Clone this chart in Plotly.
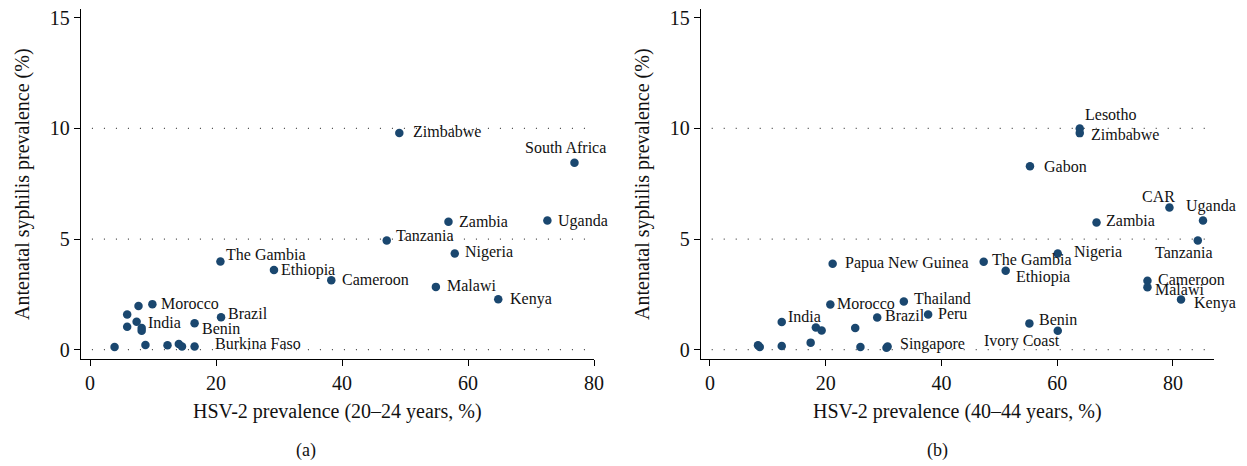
import plotly.graph_objects as go

# ---------------- data ----------------
# Panel (a): HSV-2 prevalence 20-24 years
labels_a = ["Zimbabwe", "South Africa", "Zambia", "Uganda", "Tanzania", "Nigeria",
            "The Gambia", "Ethiopia", "Cameroon", "Malawi", "Kenya", "Morocco", "",
            "", "Brazil", "India", "Benin", "", "", "", "", "", "", "", "", "Burkina Faso"]
hsv_a = [49.1, 76.9, 56.9, 72.6, 47.1, 57.9,
         20.7, 29.2, 38.3, 54.9, 64.8, 9.9, 7.7,
         5.9, 20.8, 7.4, 16.6, 5.9, 8.2, 8.2, 3.9, 8.8, 12.3, 14.1, 14.6, 16.6]
syph_a = [9.8, 8.45, 5.78, 5.84, 4.94, 4.35,
          3.99, 3.6, 3.14, 2.84, 2.28, 2.06, 1.98,
          1.59, 1.47, 1.26, 1.2, 1.04, 0.98, 0.86, 0.12, 0.21, 0.2, 0.26, 0.15, 0.14]

# Panel (b): HSV-2 prevalence 40-44 years
labels_b = ["Lesotho", "Zimbabwe", "Gabon", "CAR", "Uganda", "Zambia", "Tanzania",
            "Nigeria", "The Gambia", "Ethiopia", "Papua New Guinea", "Cameroon",
            "Malawi", "Kenya", "Thailand", "Morocco", "Brazil", "Peru", "India",
            "", "", "", "Benin", "Ivory Coast", "", "", "", "", "", "", "Singapore"]
hsv_b = [63.9, 63.9, 55.3, 79.4, 85.2, 66.8, 84.3,
         60.1, 47.3, 51.1, 21.2, 75.6,
         75.6, 81.4, 33.5, 20.8, 28.9, 37.7, 12.4,
         18.3, 19.3, 25.1, 55.2, 60.1, 8.3, 8.6, 12.4, 17.4, 26.0, 30.5, 30.7]
syph_b = [10.0, 9.79, 8.29, 6.43, 5.84, 5.75, 4.94,
          4.35, 3.98, 3.57, 3.89, 3.12,
          2.82, 2.27, 2.18, 2.04, 1.46, 1.59, 1.25,
          1.0, 0.87, 0.98, 1.19, 0.86, 0.2, 0.12, 0.17, 0.32, 0.12, 0.09, 0.14]

y_ticks = [0, 5, 10, 15]
grid_vals = [0, 5, 10]
x_ticks = [0, 20, 40, 60, 80]
x_title_a = "HSV-2 prevalence (20–24 years, %)"
x_title_b = "HSV-2 prevalence (40–44 years, %)"
y_title = "Antenatal syphilis prevalence (%)"

# ---------------- label placement (style) ----------------
# (xanchor, xshift px, yshift px)
place_a = {
    "Zimbabwe": ("left", 12, 1), "South Africa": ("center", -9, 15),
    "Zambia": ("left", 9, 0), "Uganda": ("left", 9, 0), "Tanzania": ("left", 7, 5),
    "Nigeria": ("left", 8, 1), "The Gambia": ("left", 4, 7), "Ethiopia": ("left", 5, 0),
    "Cameroon": ("left", 9, 1), "Malawi": ("left", 9, 1), "Kenya": ("left", 10, 0),
    "Morocco": ("left", 7, 1), "Brazil": ("left", 5, 4), "India": ("left", 9, -1),
    "Benin": ("left", 5, -5), "Burkina Faso": ("left", 18, 3),
}
place_b = {
    "Lesotho": ("left", 3, 14), "Zimbabwe": ("left", 9, -1), "Gabon": ("left", 12, 0),
    "CAR": ("center", -11, 11), "Uganda": ("center", 8, 15), "Zambia": ("left", 7, 2),
    "Tanzania": ("center", -14, -12), "Nigeria": ("left", 14, 1),
    "The Gambia": ("left", 6, 2), "Ethiopia": ("left", 8, -6),
    "Papua New Guinea": ("left", 10, 1), "Cameroon": ("left", 9, 1),
    "Malawi": ("left", 6, -2), "Kenya": ("left", 11, -4), "Thailand": ("left", 8, 3),
    "Morocco": ("left", 5, 1), "Brazil": ("left", 6, 2), "Peru": ("left", 8, 1),
    "India": ("left", 4, 6), "Benin": ("left", 8, 4), "Ivory Coast": ("right", 4, -10),
    "Singapore": ("left", 10, 3),
}

FONT = "Liberation Serif"
NAVY = "#1a476f"
W, H = 1247, 466
ML, MR, MT, MB = 81, 33, 7, 107
PW = W - ML - MR

fig = go.Figure()
fig.add_trace(go.Scatter(x=hsv_a, y=syph_a, mode="markers", xaxis="x", yaxis="y",
                         marker=dict(color=NAVY, size=8.5), showlegend=False,
                         text=labels_a, hoverinfo="x+y+text"))
fig.add_trace(go.Scatter(x=hsv_b, y=syph_b, mode="markers", xaxis="x2", yaxis="y2",
                         marker=dict(color=NAVY, size=8.5), showlegend=False,
                         text=labels_b, hoverinfo="x+y+text"))

annotations = []
for labs, xs, ys, place, xr, yr in [(labels_a, hsv_a, syph_a, place_a, "x", "y"),
                                    (labels_b, hsv_b, syph_b, place_b, "x2", "y2")]:
    for lab, xv, yv in zip(labs, xs, ys):
        if not lab:
            continue
        anc, dx, dy = place.get(lab, ("left", 8, 0))
        annotations.append(dict(x=xv, y=yv, xref=xr, yref=yr, text=lab, showarrow=False,
                                xanchor=anc, yanchor="middle", xshift=dx, yshift=dy,
                                font=dict(family=FONT, size=16, color="#111")))

# axis titles and panel letters
for xd, t in [("x domain", x_title_a), ("x2 domain", x_title_b)]:
    yd = "y domain" if xd == "x domain" else "y2 domain"
    annotations.append(dict(x=0.5, y=0, xref=xd, yref=yd, text=t, showarrow=False,
                            xanchor="center", yanchor="middle", yshift=-52,
                            font=dict(family=FONT, size=20, color="#111")))
    annotations.append(dict(x=0, y=0.5, xref=xd, yref=yd, text=y_title, showarrow=False,
                            xanchor="center", yanchor="middle", xshift=-59, textangle=-90,
                            font=dict(family=FONT, size=20, color="#111")))
for px, t in [(306, "(a)"), (937, "(b)")]:
    annotations.append(dict(x=(px - ML) / PW, y=0, xref="paper", yref="paper", text=t,
                            showarrow=False, xanchor="center", yanchor="middle",
                            yshift=-(450 - (H - MB)),
                            font=dict(family=FONT, size=18, color="#111")))

shapes = []
for xr, yr, xend in [("x", "y", 79.5), ("x2", "y2", 85.8)]:
    for g in grid_vals:
        shapes.append(dict(type="line", xref=xr, yref=yr, x0=0.3, x1=xend, y0=g, y1=g,
                           line=dict(color="#444", width=1.3, dash="1px 11px"), layer="below"))

axis_common = dict(showline=True, linecolor="black", linewidth=1.3, ticks="outside",
                   ticklen=6, tickwidth=1.2, tickcolor="black", showgrid=False,
                   zeroline=False, tickfont=dict(family=FONT, size=20, color="#111"))

fig.update_layout(
    width=W, height=H, margin=dict(l=ML, r=MR, t=MT, b=MB),
    paper_bgcolor="white", plot_bgcolor="white",
    xaxis=dict(domain=[0, 513 / PW], range=[-1.43, 80], tickvals=x_ticks, anchor="y",
               **axis_common),
    yaxis=dict(domain=[0, 1], range=[-0.42, 15.4], tickvals=y_ticks, anchor="x",
               **axis_common),
    xaxis2=dict(domain=[620 / PW, 1], range=[-1.55, 87.1], tickvals=x_ticks, anchor="y2",
                **axis_common),
    yaxis2=dict(domain=[0, 1], range=[-0.42, 15.4], tickvals=y_ticks, anchor="x2",
                **axis_common),
    annotations=annotations, shapes=shapes,
)

fig.write_html("out.html", config={"displayModeBar": False},
               post_script="document.body.style.margin='0px';document.body.style.padding='0px';")
